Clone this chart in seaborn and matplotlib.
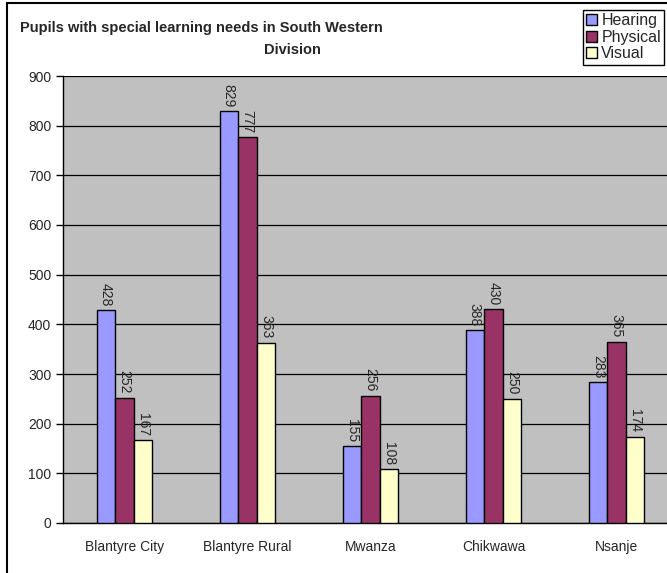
import numpy as np
import pandas as pd
import seaborn as sns
import matplotlib.pyplot as plt
from matplotlib.patches import Rectangle, Patch

# data
districts = ["Blantyre City", "Blantyre Rural", "Mwanza", "Chikwawa", "Nsanje"]
hearing = [428, 829, 155, 388, 283]
physical = [252, 777, 256, 430, 365]
visual = [167, 363, 108, 250, 174]
needs = ["Hearing", "Physical", "Visual"]
colors = ["#9999FF", "#993366", "#FFFFCC"]

df = pd.DataFrame({
    "District": districts * 3,
    "Need": ["Hearing"] * 5 + ["Physical"] * 5 + ["Visual"] * 5,
    "Pupils": hearing + physical + visual,
})

sns.set_style("white")
plt.rcParams["font.family"] = ["Liberation Sans", "DejaVu Sans"]
font_size = 10

fig = plt.figure(figsize=(6.67, 5.73), dpi=100)
ax = fig.add_axes([63 / 667, 1 - 523 / 573, 615 / 667, 447 / 573])
ax.set_facecolor("#C0C0C0")

sns.barplot(
    data=df, x="District", y="Pupils", hue="Need",
    order=districts, hue_order=needs, palette=colors,
    width=0.455, edgecolor="black", linewidth=1.0,
    saturation=1, errorbar=None, ax=ax, zorder=3, legend=False,
)

for cont in ax.containers:
    ax.bar_label(cont, rotation=270, padding=3, fontsize=font_size)

ax.set_ylim(0, 900)
ax.set_xlim(-0.5, 4.5)
ax.set_yticks(range(0, 901, 100))
ax.yaxis.grid(True, color="black", linewidth=0.9, zorder=0)
ax.set_axisbelow(True)
ax.set_xlabel("")
ax.set_ylabel("")

ax.set_xticks(range(5))
ax.set_xticklabels(districts)
ax.set_xticks(np.arange(-0.5, 5, 1), minor=True)
ax.tick_params(axis="x", which="major", length=0, pad=12, labelsize=font_size)
ax.tick_params(axis="x", which="minor", length=5, width=1, color="black", direction="out")
ax.tick_params(axis="y", length=5, width=1, color="black", direction="out",
               labelsize=font_size, left=True)

for side in ["top", "right"]:
    ax.spines[side].set_visible(False)
for side in ["left", "bottom"]:
    ax.spines[side].set_color("black")
    ax.spines[side].set_linewidth(1.0)

# title, as two lines like the original text box
fig.text(20 / 667, 1 - 28 / 573, "Pupils with special learning needs in South Western",
         fontsize=10.5, fontweight="bold", ha="left", va="center")
fig.text(292 / 667, 1 - 50 / 573, "Division",
         fontsize=10.5, fontweight="bold", ha="center", va="center")

# legend
handles = [Patch(facecolor=c, edgecolor="black", linewidth=1) for c in colors]
fig.legend(handles, needs, loc="upper left", bbox_to_anchor=(583 / 667, 1 - 10 / 573),
           frameon=True, fancybox=False, edgecolor="black", framealpha=1,
           fontsize=11.5, handlelength=0.7, handleheight=0.7, handletextpad=0.25,
           labelspacing=0.1, borderpad=0.2, borderaxespad=0)

# outer chart border
fig.add_artist(Rectangle((7 / 667, -0.1), 1.2, 1.1 - 3 / 573, transform=fig.transFigure,
                         fill=False, edgecolor="black", linewidth=1.5, clip_on=False))

fig.savefig("out.png", dpi=100)
